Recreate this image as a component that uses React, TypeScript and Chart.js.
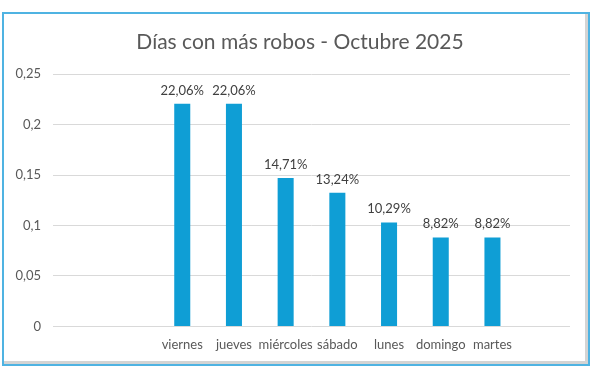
import React, { useEffect, useRef } from "react";
import { Chart, registerables } from "chart.js";

Chart.register(...registerables);

const categories: string[] = ["", "", "viernes", "jueves", "miércoles", "sábado", "lunes", "domingo", "martes", ""];
const values: (number | null)[] = [null, null, 0.2206, 0.2206, 0.1471, 0.1324, 0.1029, 0.0882, 0.0882, null];
const titleText = "Días con más robos - Octubre 2025";

const FONT = "Lato, 'Open Sans', sans-serif";

const valueLabels = {
  id: "valueLabels",
  afterDatasetsDraw(chart: any) {
    const ctx = chart.ctx;
    const meta = chart.getDatasetMeta(0);
    ctx.save();
    ctx.font = `13px ${FONT}`;
    ctx.fillStyle = "#404040";
    ctx.textAlign = "center";
    ctx.textBaseline = "bottom";
    meta.data.forEach((bar: any, i: number) => {
      const v = values[i];
      if (v == null) return;
      const txt = (v * 100).toFixed(2).replace(".", ",") + "%";
      ctx.fillText(txt, bar.x, bar.y - 7);
    });
    ctx.restore();
  },
};

export default function App() {
  const ref = useRef<HTMLCanvasElement>(null);
  useEffect(() => {
    if (!ref.current) return;
    const chart = new Chart(ref.current, {
      type: "bar",
      data: {
        labels: categories,
        datasets: [
          {
            data: values,
            backgroundColor: "#0F9ED5",
            barPercentage: 0.31,
            categoryPercentage: 1,
          },
        ],
      },
      options: {
        animation: false,
        responsive: false,
        layout: { padding: { left: 0, right: 0, top: 0, bottom: 17 } },
        plugins: {
          legend: { display: false },
          tooltip: { enabled: false },
          title: {
            display: true,
            text: titleText,
            color: "#595959",
            font: { family: FONT, size: 21, weight: "normal" },
            padding: { top: 30, bottom: 19 },
          },
        },
        scales: {
          x: {
            grid: { display: false, drawTicks: false },
            border: { display: false },
            ticks: {
              color: "#595959",
              font: { family: FONT, size: 13 },
              padding: 11,
              autoSkip: false,
              maxRotation: 0,
              minRotation: 0,
            },
          },
          y: {
            min: 0,
            max: 0.25,
            afterFit: (scale: any) => {
              scale.width = 53;
            },
            grid: { color: "#d9d9d9", drawTicks: false, lineWidth: 1 },
            border: { display: false },
            ticks: {
              stepSize: 0.05,
              color: "#595959",
              font: { family: FONT, size: 13 },
              padding: 12,
              callback: (v: any) => String(Math.round(Number(v) * 100) / 100).replace(".", ","),
            },
          },
          yRight: {
            position: "right",
            display: true,
            min: 0,
            max: 0.25,
            afterFit: (scale: any) => {
              scale.width = 30;
            },
            grid: { display: false, drawTicks: false },
            border: { display: false },
            ticks: { display: false },
          },
        },
      },
      plugins: [valueLabels],
    });
    return () => chart.destroy();
  }, []);

  return (
    <div>
      <canvas
        ref={ref}
        width={600}
        height={381}
        style={{ position: "absolute", left: 0, top: 0, width: 600, height: 381 }}
      />
      <div
        style={{
          position: "absolute",
          left: 2,
          top: 12,
          width: 588,
          height: 354,
          boxSizing: "border-box",
          border: "2px solid #4FB3E2",
          boxShadow: "inset -3px -3px 0 #d4d4d4",
          pointerEvents: "none",
        }}
      />
    </div>
  );
}
